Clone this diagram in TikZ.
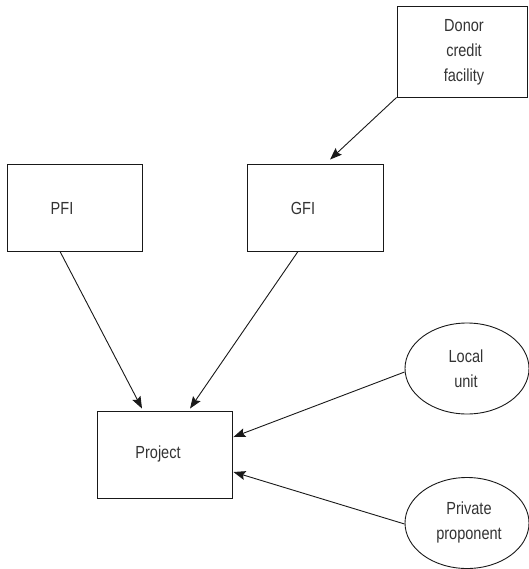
\documentclass[tikz,border=0pt]{standalone}
\usepackage{fontspec}
\setmainfont{Liberation Sans}[FakeStretch=0.83]
\usetikzlibrary{arrows.meta,shapes.geometric}
\begin{document}
\begin{tikzpicture}[x=1pt,y=-1pt,
  box/.style={draw=black!90,line width=0.9pt,rectangle,inner sep=0pt},
  oval/.style={draw=black!90,line width=0.9pt,ellipse,inner sep=0pt},
  txt/.style={text=black!80,font=\fontsize{17.5}{25}\selectfont,align=center},
  arr/.style={draw=black!90,line width=0.9pt,-{Stealth[length=12pt,width=9pt,inset=2pt]}}]
\useasboundingbox (0,0) rectangle (528,569);
\node[box,minimum width=130pt,minimum height=91pt] (donor) at (462,51.5) {};
\node[txt] at (464,52) {Donor\\credit\\facility};
\node[box,minimum width=135pt,minimum height=87pt] (pfi) at (74.5,207.5) {};
\node[txt] at (62,208) {PFI};
\node[box,minimum width=136pt,minimum height=87pt] (gfi) at (315,207.5) {};
\node[txt] at (303,208) {GFI};
\node[box,minimum width=135pt,minimum height=87pt] (proj) at (164.5,454.5) {};
\node[txt] at (158,454) {Project};
\node[oval,minimum width=124pt,minimum height=91pt] (local) at (467,368.5) {};
\node[txt] at (466,369) {Local\\unit};
\node[oval,minimum width=124pt,minimum height=91pt] (priv) at (467,523) {};
\node[txt] at (469,522) {Private\\proponent};
\draw[arr] (donor.south west) -- ([xshift=15pt,yshift=4pt]gfi.north);
\draw[arr] ([xshift=-14.5pt]pfi.south) -- ([xshift=-22.5pt,yshift=2pt]proj.north);
\draw[arr] ([xshift=-17pt]gfi.south) -- ([xshift=25.5pt,yshift=2pt]proj.north);
\draw[arr] ([yshift=-3.5pt]local.west) -- ([xshift=1pt,yshift=17.5pt]proj.east);
\draw[arr] ([yshift=-1pt]priv.west) -- ([xshift=1pt,yshift=-17.5pt]proj.east);
\end{tikzpicture}
\end{document}
